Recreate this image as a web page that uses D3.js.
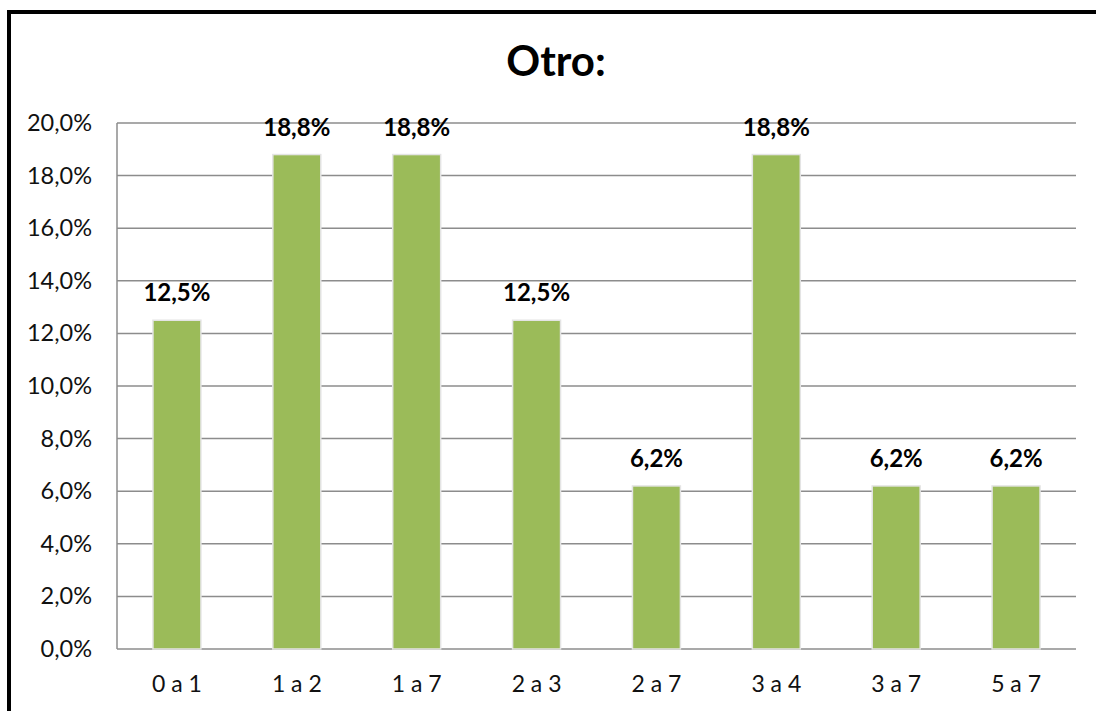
<!DOCTYPE html>
<html>
<head>
  <meta charset="utf-8">
  <script src="https://cdn.jsdelivr.net/npm/d3@7"></script>
  <style>
    body { margin: 0; background: white; }
    svg { display: block; font-family: Lato, "Open Sans", sans-serif; }
  </style>
</head>
<body>
  <script>
    const categories = ['0 a 1', '1 a 2', '1 a 7', '2 a 3', '2 a 7', '3 a 4', '3 a 7', '5 a 7']
    const values = [12.5, 18.8, 18.8, 12.5, 6.2, 18.8, 6.2, 6.2]
    const yTicks = [0, 2, 4, 6, 8, 10, 12, 14, 16, 18, 20]
    const title = 'Otro:'

    const W = 1096, H = 711
    const plot = { left: 117, right: 1076, top: 123, bottom: 649 }
    const fmt = v => v.toFixed(1).replace('.', ',') + '%'

    const svg = d3.select('body').append('svg')
      .attr('width', W).attr('height', H)

    // chart frame
    svg.append('path')
      .attr('d', 'M9,' + (H + 5) + 'V12H' + (W + 5))
      .attr('fill', 'none')
      .attr('stroke', 'black')
      .attr('stroke-width', 4)

    svg.append('text')
      .attr('x', 556).attr('y', 76)
      .attr('text-anchor', 'middle')
      .attr('font-size', 42).attr('font-weight', 'bold')
      .text(title)

    const x = d3.scaleBand().domain(categories)
      .range([plot.left, plot.right]).paddingInner(0.6).paddingOuter(0.3)
    const y = d3.scaleLinear().domain([0, 20]).range([plot.bottom, plot.top])

    // gridlines
    svg.append('g').selectAll('line').data(yTicks).join('line')
      .attr('x1', plot.left).attr('x2', plot.right)
      .attr('y1', d => y(d)).attr('y2', d => y(d))
      .attr('stroke', '#8c8c8c').attr('stroke-width', 1.5)

    svg.append('line')
      .attr('x1', plot.left).attr('x2', plot.left)
      .attr('y1', plot.top).attr('y2', plot.bottom)
      .attr('stroke', '#8c8c8c').attr('stroke-width', 1.5)

    const yAxis = svg.append('g')
      .attr('transform', `translate(${plot.left},0)`)
      .call(d3.axisLeft(y).tickValues(yTicks).tickFormat(fmt).tickSize(0).tickPadding(25))
    yAxis.select('.domain').remove()
    yAxis.selectAll('text').attr('font-size', 23.5).attr('fill', '#111')
      .attr('font-family', 'Lato, sans-serif')

    const xAxis = svg.append('g')
      .attr('transform', `translate(0,${plot.bottom})`)
      .call(d3.axisBottom(x).tickSize(0).tickPadding(27))
    xAxis.select('.domain').remove()
    xAxis.selectAll('text').attr('font-size', 23).attr('fill', '#111')
      .attr('font-family', 'Lato, sans-serif')

    // bars
    const data = categories.map((c, i) => ({ c, v: values[i] }))
    svg.append('g').selectAll('rect').data(data).join('rect')
      .attr('x', d => x(d.c)).attr('width', x.bandwidth())
      .attr('y', d => y(d.v)).attr('height', d => y(0) - y(d.v))
      .attr('fill', '#9bbb59')
      .attr('stroke', '#e4e4e4').attr('stroke-width', 1.5)

    svg.append('g').selectAll('text').data(data).join('text')
      .attr('x', d => x(d.c) + x.bandwidth() / 2)
      .attr('y', d => y(d.v) - 19)
      .attr('text-anchor', 'middle')
      .attr('font-size', 24).attr('font-weight', 'bold')
      .text(d => fmt(d.v))
  </script>
</body>
</html>
